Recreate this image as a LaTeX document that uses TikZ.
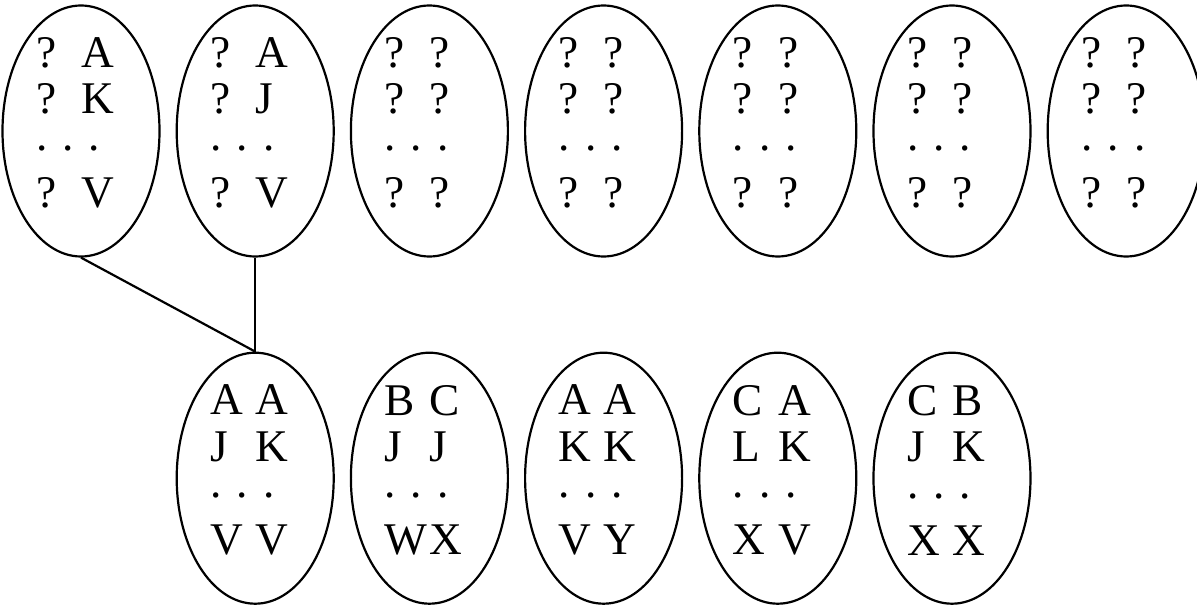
\documentclass[tikz,border=0pt]{standalone}
\usepackage{fontspec}
\setmainfont{Liberation Serif}
\usetikzlibrary{shapes.geometric,positioning}
\newcommand{\twocol}[2]{\makebox[1em][l]{#1}#2}
\newcommand{\pairs}[6]{\twocol{#1}{#2}\\ \twocol{#3}{#4}\\[-5.2pt]
  .\ .\ .\\[6.2pt] \twocol{#5}{#6}}
\tikzset{
  pooltxt/.style={text width=1.8cm, align=left, inner sep=0pt,
                  yshift=4.5pt, font=\fontsize{25.8}{26.2}\selectfont},
  pool/.style={ellipse, draw, line width=1.25pt,
               minimum width=3.14cm, minimum height=5.02cm, inner sep=0pt,
               label={[pooltxt]center:#1}},
  link/.style={line width=1.25pt}
}
\begin{document}
\begin{tikzpicture}[node distance=1.88cm and 0.3cm]
\useasboundingbox (0,0) rectangle (23.94,-12.1);
\node[pool={\pairs{?}{A}{?}{K}{?}{V}}] (top1) at (1.62,-2.62) {};
\node[pool={\pairs{?}{A}{?}{J}{?}{V}}, right=of top1] (top2) {};
\node[pool={\pairs{?}{?}{?}{?}{?}{?}}, right=of top2] (top3) {};
\node[pool={\pairs{?}{?}{?}{?}{?}{?}}, right=of top3] (top4) {};
\node[pool={\pairs{?}{?}{?}{?}{?}{?}}, right=of top4] (top5) {};
\node[pool={\pairs{?}{?}{?}{?}{?}{?}}, right=of top5] (top6) {};
\node[pool={\pairs{?}{?}{?}{?}{?}{?}}, right=of top6] (top7) {};
\node[pool={\pairs{A}{A}{J}{K}{V}{V}}, below=of top2] (low1) {};
\node[pool={\pairs{B}{C}{J}{J}{W}{X}}, right=of low1] (low2) {};
\node[pool={\pairs{A}{A}{K}{K}{V}{Y}}, right=of low2] (low3) {};
\node[pool={\pairs{C}{A}{L}{K}{X}{V}}, right=of low3] (low4) {};
\node[pool={\pairs{C}{B}{J}{K}{X}{X}}, right=of low4] (low5) {};
\draw[link] (top1.south) -- (low1.north);
\draw[link] (top2.south) -- (low1.north);
\end{tikzpicture}
\end{document}
